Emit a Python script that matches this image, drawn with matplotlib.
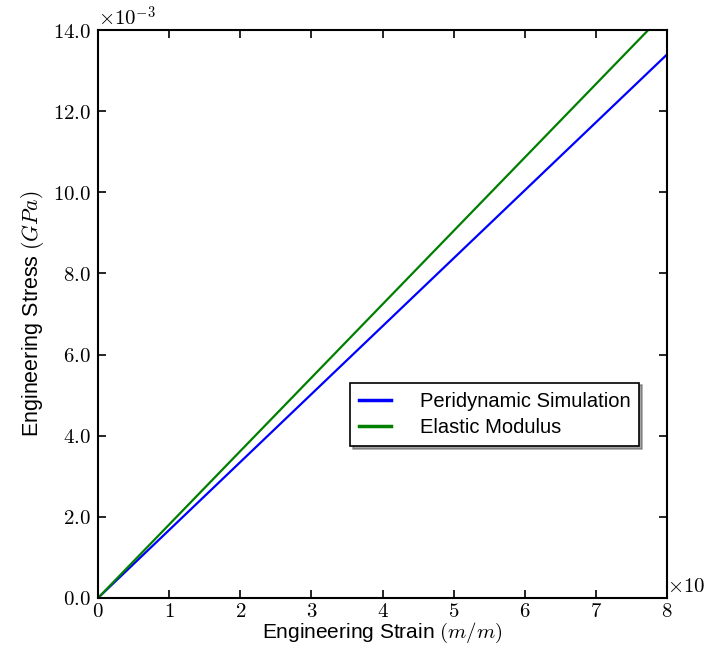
import numpy as np
import matplotlib

matplotlib.use("Agg")
import matplotlib.pyplot as plt
from matplotlib.ticker import FuncFormatter

plt.rcParams["mathtext.fontset"] = "cm"
plt.rcParams["font.family"] = ["Liberation Sans", "DejaVu Sans"]

# strain in units of 1e-3 m/m, stress in units of 1e-3 GPa
strain = [0.0, 2.0, 4.0, 6.0, 8.0]
stress_sim = [0.0, 3.35, 6.70, 10.05, 13.40]
stress_elastic = [0.0, 3.62, 7.24, 10.86, 14.48]

fig = plt.figure(figsize=(7.06, 6.49), dpi=100)
ax = fig.add_axes([0.1388, 0.0786, 0.806, 0.875])

ax.plot(strain, stress_sim, color="#0000ff", lw=1.6, label="Peridynamic Simulation")
ax.plot(strain, stress_elastic, color="#007f00", lw=1.6, label="Elastic Modulus")

ax.set_xlim(0, 8)
ax.set_ylim(0, 14)
ax.set_xticks(range(0, 9))
ax.set_yticks(np.arange(0, 15, 2))
ax.xaxis.set_major_formatter(FuncFormatter(lambda v, p: r"$%d$" % v))
ax.yaxis.set_major_formatter(FuncFormatter(lambda v, p: r"$%.1f$" % v))
ax.tick_params(direction="in", length=6, width=1.2, labelsize=15,
               top=True, right=True, pad=5)
ax.tick_params(axis="x", pad=3)
for s in ax.spines.values():
    s.set_linewidth(1.5)

# offset texts (the x one runs off the right edge, as in the original)
ax.text(0.0, 1.0, r"$\times10^{-3}$", transform=ax.transAxes,
        fontsize=15, ha="left", va="bottom")
ax.text(1.0, 0.0, r"$\times10^{-3}$", transform=ax.transAxes,
        fontsize=15, ha="left", va="bottom")

ax.set_xlabel(r"Engineering Strain $(m/m)$", fontsize=15, labelpad=0)
ax.set_ylabel(r"Engineering Stress $(GPa)$", fontsize=15.5, labelpad=5)

leg = ax.legend(loc="lower left", bbox_to_anchor=(0.443, 0.268), borderaxespad=0,
                fontsize=14.5, shadow=True, fancybox=False, framealpha=1,
                handlelength=1.6, handletextpad=1.4, borderpad=0.45,
                labelspacing=0.35)
leg.get_frame().set_edgecolor("black")
leg.get_frame().set_linewidth(1.2)
for line in leg.get_lines():
    line.set_linewidth(2.5)

fig.savefig("out.png", dpi=100)
